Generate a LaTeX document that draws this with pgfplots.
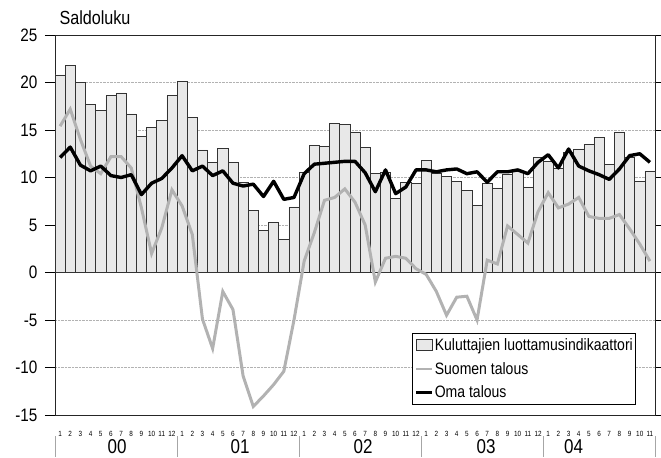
\documentclass[border=0pt]{standalone}
\usepackage{pgfplots}
\pgfplotsset{compat=1.18}
\usepackage{pgfplotstable}
\usepackage{fontspec}
\setmainfont{Liberation Sans}[FakeStretch=0.85]

\pgfplotstableread{
x kul suo oma
1 20.8 15.4 12.1
2 21.8 17.2 13.2
3 20.0 14.0 11.3
4 17.7 11.2 10.7
5 17.1 10.4 11.2
6 18.6 12.2 10.2
7 18.9 12.2 10.0
8 16.7 11.0 10.3
9 14.3 6.8 8.2
10 15.3 2.0 9.4
11 16.0 4.7 9.9
12 18.6 8.7 11.0
13 20.1 7.0 12.3
14 16.3 4.0 10.7
15 12.9 -4.9 11.2
16 11.6 -8.0 10.2
17 13.1 -2.0 10.7
18 11.6 -3.9 9.4
19 9.5 -10.9 9.1
20 6.5 -14.1 9.3
21 4.4 -13.0 8.0
22 5.3 -11.8 9.6
23 3.5 -10.4 7.7
24 6.9 -5.0 7.9
25 10.5 1.2 10.4
26 13.4 4.2 11.4
27 13.3 7.6 11.5
28 15.7 7.9 11.6
29 15.6 8.8 11.7
30 14.8 7.4 11.7
31 13.2 5.0 10.5
32 10.4 -1.0 8.5
33 10.5 1.5 10.8
34 7.8 1.7 8.3
35 9.5 1.5 9.0
36 9.4 0.4 10.8
37 11.8 -0.2 10.8
38 10.4 -2.0 10.6
39 10.1 -4.5 10.8
40 9.6 -2.6 10.9
41 8.6 -2.5 10.4
42 7.1 -5.0 10.6
43 9.4 1.3 9.5
44 8.9 0.9 10.6
45 10.3 4.9 10.6
46 10.6 4.0 10.8
47 9.0 3.1 10.4
48 12.1 6.4 11.6
49 11.7 8.4 12.4
50 11.0 6.8 11.0
51 12.6 7.2 13.0
52 13.0 7.9 11.2
53 13.5 5.9 10.7
54 14.2 5.7 10.3
55 11.4 5.7 9.8
56 14.8 6.1 10.9
57 12.1 4.6 12.3
58 9.6 3.0 12.5
59 10.7 1.2 11.6
}\data

\begin{document}
\begin{tikzpicture}
\begin{axis}[name=ax, scale only axis, width=600pt, height=380pt,
  xmin=0.5, xmax=59.5, ymin=-15, ymax=25,
  ytick={-15,-10,...,25},
  xtick={1,...,59},
  xticklabels={1,2,3,4,5,6,7,8,9,10,11,12,1,2,3,4,5,6,7,8,9,10,11,12,1,2,3,4,5,6,7,8,9,10,11,12,1,2,3,4,5,6,7,8,9,10,11,12,1,2,3,4,5,6,7,8,9,10,11},
  /pgf/number format/assume math mode=true,
  tick align=outside,
  major tick length=10pt,
  xtick style={draw=none},
  ytick style={black, line width=0.8pt},
  yticklabel style={font=\fontsize{18}{18}\selectfont, xshift=-4pt},
  xticklabel style={font=\fontsize{7.5}{8}\selectfont, yshift=-3pt},
  axis line style={line width=0.9pt, black!85},
  ymajorgrids, grid style={densely dotted, gray!60, line width=0.6pt},
  extra y ticks={0}, extra y tick labels={},
  extra y tick style={grid=major, grid style={solid, black, line width=0.8pt}, major tick length=0pt},
  clip=false,
  legend style={at={(0.595,0.026)}, anchor=south west, draw=black, line width=0.8pt,
    font=\fontsize{16.5}{18}\selectfont, row sep=6pt, inner xsep=2pt, inner ysep=3.5pt,
    cells={anchor=west}, nodes={inner xsep=1pt}},
  legend cell align=left,
]
\addplot[ybar, bar width=1, fill=gray!18, draw=black!80, line width=0.6pt,
  legend image code/.code={\draw[fill=gray!18, draw=black!80, line width=0.6pt] (0pt,-5pt) rectangle (16pt,6pt);}] table[x=x,y=kul]{\data};
\addlegendentry{Kuluttajien luottamusindikaattori\hspace{10pt}}
\addplot[gray!60, line width=3pt, legend image code/.code={\draw[gray!60, line width=2.6pt] (0pt,0pt) -- (16pt,0pt);}] table[x=x,y=suo]{\data};
\addlegendentry{Suomen talous}
\addplot[black, line width=3.4pt, line join=round, legend image code/.code={\draw[black, line width=3.4pt] (0pt,0pt) -- (16pt,0pt);}] table[x=x,y=oma]{\data};
\addlegendentry{Oma talous}

\foreach \yr/\xc in {00/6.6, 01/18.7, 02/30.8, 03/42.9, 04/51.5} {
  \edef\tmp{\noexpand\node[font=\noexpand\fontsize{20}{20}\noexpand\selectfont] at ([yshift=-32pt]axis cs:\xc,-15) {\yr};}
  \tmp
}
\foreach \xs in {0.5,12.5,24.5,36.5,48.5,59.5} {
  \edef\tmp{\noexpand\draw[gray!70, line width=0.6pt] ([yshift=-21pt]axis cs:\xs,-15) -- ([yshift=-42pt]axis cs:\xs,-15);}
  \tmp
}
\end{axis}
\node[anchor=base west, font=\fontsize{19}{19}\selectfont] at ([xshift=1pt,yshift=10pt]ax.north west) {Saldoluku};
\pgfresetboundingbox
\path ([xshift=-55pt,yshift=-42pt]ax.south west) rectangle ([xshift=6pt,yshift=35pt]ax.north east);
\end{tikzpicture}
\end{document}
